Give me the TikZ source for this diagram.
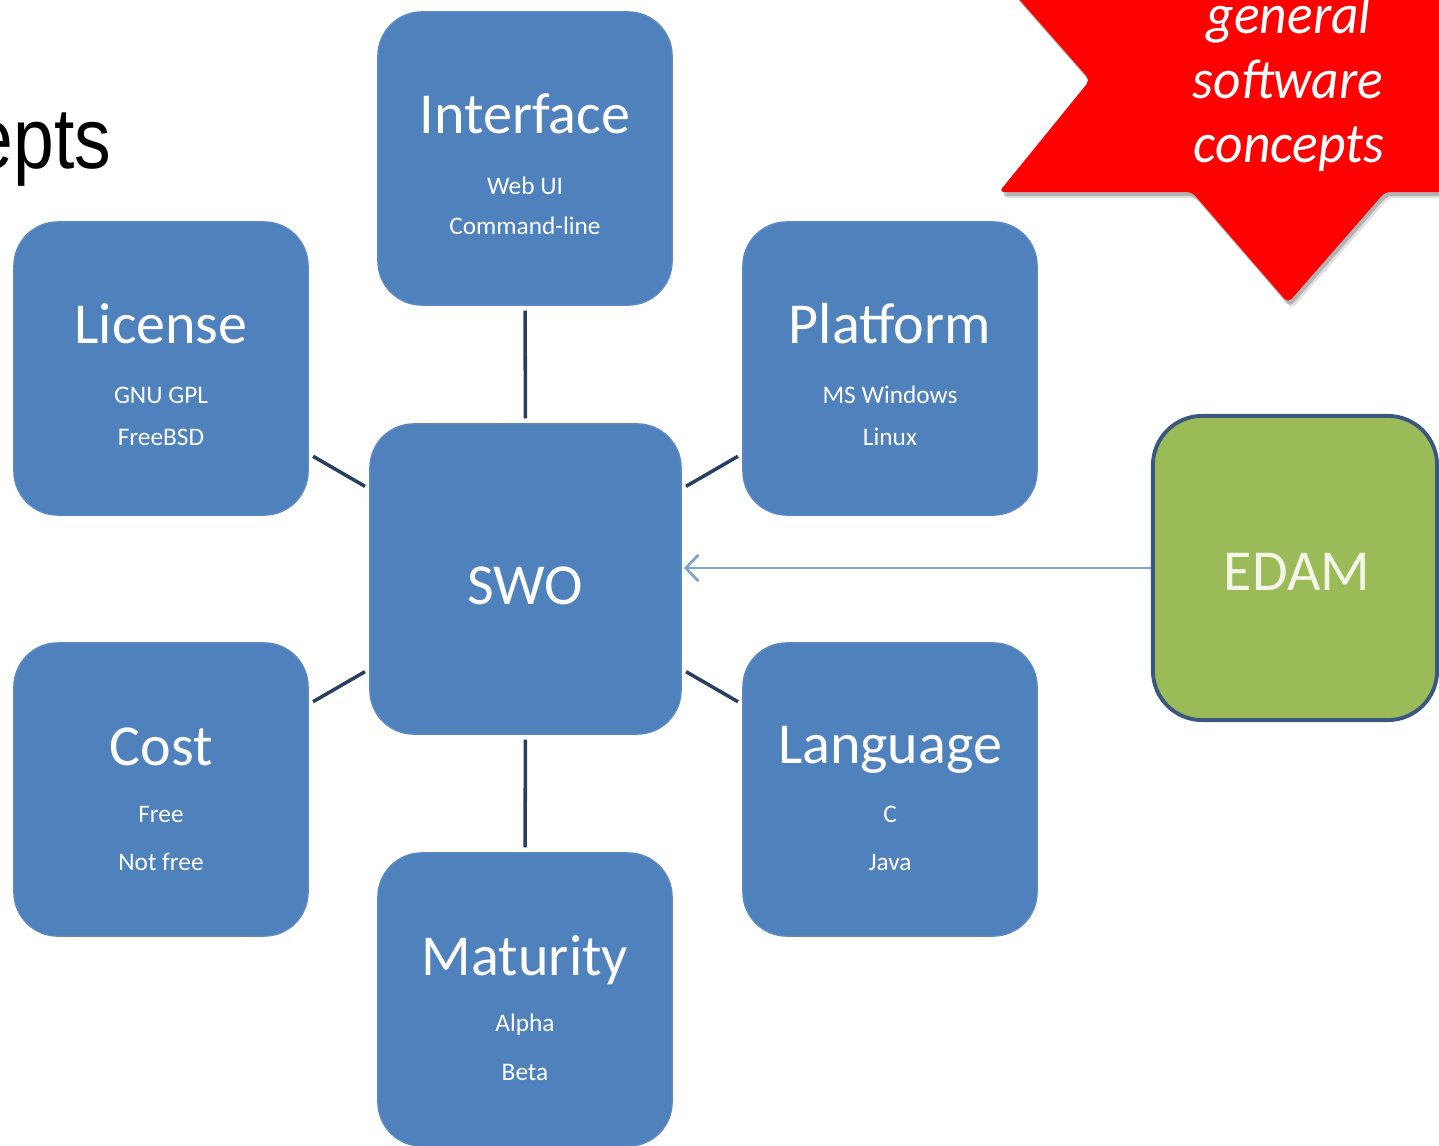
\documentclass[tikz,border=0pt]{standalone}
\usepackage{graphicx}
\usepackage{fontspec}
\setmainfont{Carlito}
\newfontfamily\headfont{Liberation Sans}
\usetikzlibrary{arrows.meta}

\definecolor{boxblue}{HTML}{4F81BD}
\definecolor{boxedge}{HTML}{5A8AC4}
\definecolor{linknavy}{HTML}{283F62}
\definecolor{edamgreen}{HTML}{9BBB59}
\definecolor{edamedge}{HTML}{3A5780}
\definecolor{edamtext}{HTML}{F3F6E8}
\definecolor{arrowblue}{HTML}{7EA2D3}
\definecolor{starred}{HTML}{FF0000}

\begin{document}
\begin{tikzpicture}[x=0.01cm, y=-0.01cm,
  conceptbox/.style={draw=boxedge, line width=0.4pt, fill=boxblue,
    rounded corners=12.5pt, minimum width=2.94cm, minimum height=2.93cm,
    inner sep=0pt},
  boxtitle/.style={text=white, font=\fontsize{16.5}{18}\selectfont,
    anchor=base, inner sep=0pt},
  boxdetail/.style={text=white, font=\fontsize{7.2}{8}\selectfont,
    anchor=base, inner sep=0pt},
  link/.style={draw=linknavy, line width=1pt, shorten <=1.4pt, shorten >=1.4pt},
  startext/.style={text=white, font=\itshape\fontsize{16}{18}\selectfont,
    anchor=base, inner sep=0pt}]

\useasboundingbox (0,0) rectangle (1439,1145);
\clip (0,0) rectangle (1439,1145);

% heading fragment at the top left
\node[font=\headfont\fontsize{24.5}{26}\selectfont, anchor=base east,
  inner sep=0pt] (head) at (112,168) {\scalebox{0.85}[1]{epts}};

% red callout star with a soft shadow
\foreach \dx/\dy/\op in {4/6/0.12, 2/4/0.2} {
  \fill[black, opacity=\op, rounded corners=1.5pt, shift={(\dx,\dy)}]
    (1011,-10) -- (1090,80) -- (999,192) -- (1192,192) -- (1288,303)
    -- (1385,192) -- (1450,192) -- (1450,-10) -- cycle;
}
\fill[starred, rounded corners=1.5pt]
  (1011,-10) -- (1090,80) -- (999,192) -- (1192,192) -- (1288,303)
  -- (1385,192) -- (1450,192) -- (1450,-10) -- cycle;
\node[startext] (star-a) at (1289,33) {\scalebox{0.95}[1]{general}};
\node[startext] (star-b) at (1288,98) {\scalebox{0.95}[1]{software}};
\node[startext] (star-c) at (1289,162) {\scalebox{0.95}[1]{concepts}};

% concept boxes
\node[conceptbox] (iface) at (525,158.5) {};
\node[conceptbox] (lic) at (161,368.5) {};
\node[conceptbox] (plat) at (890,368.5) {};
\node[conceptbox, minimum width=3.11cm, minimum height=3.1cm] (swo) at (525.5,579) {};
\node[conceptbox] (cost) at (161,789.5) {};
\node[conceptbox] (lang) at (890,789.5) {};
\node[conceptbox] (mat) at (525,999.5) {};
\node[draw=edamedge, line width=1.1pt, fill=edamgreen, rounded corners=14pt,
  minimum width=2.84cm, minimum height=3.04cm, inner sep=0pt] (edam) at (1295,568) {};

% connectors to the central box
\draw[link] (iface) -- (swo);
\draw[link] (lic) -- (swo);
\draw[link] (plat) -- (swo);
\draw[link] (cost) -- (swo);
\draw[link] (lang) -- (swo);
\draw[link] (mat) -- (swo);
\draw[draw=arrowblue, line width=0.75pt, shorten >=0.6pt,
  -{Straight Barb[length=3.6pt, width=7.5pt]}]
  (edam.west) -- (edam.west -| swo.east);

% box labels
\node[boxtitle] (iface-t) at (525,133) {Interface};
\node[boxdetail] (iface-a) at (525,194) {Web UI};
\node[boxdetail] (iface-b) at (525,234) {Command-line};

\node[boxtitle] (lic-t) at (161,343) {License};
\node[boxdetail] (lic-a) at (161,403) {GNU GPL};
\node[boxdetail] (lic-b) at (161,445) {FreeBSD};

\node[boxtitle] (plat-t) at (890,343) {Platform};
\node[boxdetail] (plat-a) at (890,403) {MS Windows};
\node[boxdetail] (plat-b) at (890,445) {Linux};

\node[boxtitle] (swo-t) at (525,604) {SWO};

\node[boxtitle] (cost-t) at (161,765) {Cost};
\node[boxdetail] (cost-a) at (161,822) {Free};
\node[boxdetail] (cost-b) at (161,870) {Not free};

\node[boxtitle] (lang-t) at (890,763) {Language};
\node[boxdetail] (lang-a) at (890,822) {C};
\node[boxdetail] (lang-b) at (890,870) {Java};

\node[boxtitle] (mat-t) at (525,975) {Maturity};
\node[boxdetail] (mat-a) at (525,1031) {Alpha};
\node[boxdetail] (mat-b) at (525,1080) {Beta};

\node[boxtitle, text=edamtext] (edam-t) at (1297,590) {EDAM};
\end{tikzpicture}
\end{document}
